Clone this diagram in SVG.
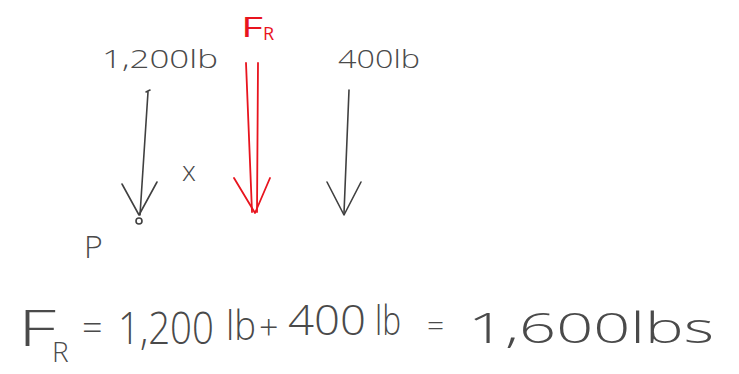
<svg xmlns="http://www.w3.org/2000/svg" width="739" height="374" viewBox="0 0 739 374">
<style>
.t{font-family:"Open Sans","Liberation Sans",Arial,sans-serif;font-weight:300;fill:#4a4a4a}
.r{font-family:"Open Sans","Liberation Sans",Arial,sans-serif;font-weight:400;fill:#e8141e}
.ln{stroke:#404040;stroke-width:1.6;fill:none;stroke-linecap:round;stroke-linejoin:round}
.rl{stroke:#e8141e;stroke-width:1.8;fill:none;stroke-linecap:round;stroke-linejoin:round}
</style>
<rect width="739" height="374" fill="#ffffff"/>
<g id="force-1200">
<text class="t" x="102" y="68" font-size="26" textLength="116" lengthAdjust="spacingAndGlyphs">1,200lb</text>
</g>
<g id="force-FR">
<text class="r" x="241" y="37" font-size="28" textLength="22" lengthAdjust="spacingAndGlyphs">F</text>
<text class="r" x="263" y="40" font-size="18">R</text>
</g>
<g id="force-400">
<text class="t" x="338" y="68" font-size="26" textLength="82" lengthAdjust="spacingAndGlyphs">400lb</text>
</g>
<g id="label-x">
<text class="t" x="182" y="181" font-size="28">x</text>
</g>
<g id="point-P">
<text class="t" x="84" y="258" font-size="32">P</text>
<circle cx="139" cy="221" r="3" fill="none" stroke="#404040" stroke-width="1.6"/>
</g>
<g id="connectors">
<path class="ln" d="M146 92 L150 90 M148 92 L140 215"/>
<path class="ln" d="M122 184 L139 215 L157 182"/>
<path class="rl" d="M246 63 L252 212 M258 63 L257 212"/>
<path class="rl" d="M234 178 L255 213 L270 178"/>
<path class="ln" d="M349 90 L344 213"/>
<path class="ln" d="M327 182 L344 215 L361 182"/>
</g>
<g id="equation">
<text class="t" x="18" y="346" font-size="50" textLength="38" lengthAdjust="spacingAndGlyphs">F</text>
<text class="t" x="52" y="362" font-size="28">R</text>
<text class="t" x="82" y="341" font-size="36">=</text>
<text class="t" x="118" y="344" font-size="44" textLength="96" lengthAdjust="spacingAndGlyphs">1,200</text>
<text class="t" x="226" y="340" font-size="40" textLength="30" lengthAdjust="spacingAndGlyphs">lb</text>
<text class="t" x="259" y="340" font-size="34">+</text>
<text class="t" x="288" y="335" font-size="42" textLength="78" lengthAdjust="spacingAndGlyphs">400</text>
<text class="t" x="375" y="335" font-size="40" textLength="26" lengthAdjust="spacingAndGlyphs">lb</text>
<text class="t" x="427" y="336" font-size="30">=</text>
<text class="t" x="468" y="343" font-size="42" textLength="246" lengthAdjust="spacingAndGlyphs">1,600lbs</text>
</g>
</svg>
